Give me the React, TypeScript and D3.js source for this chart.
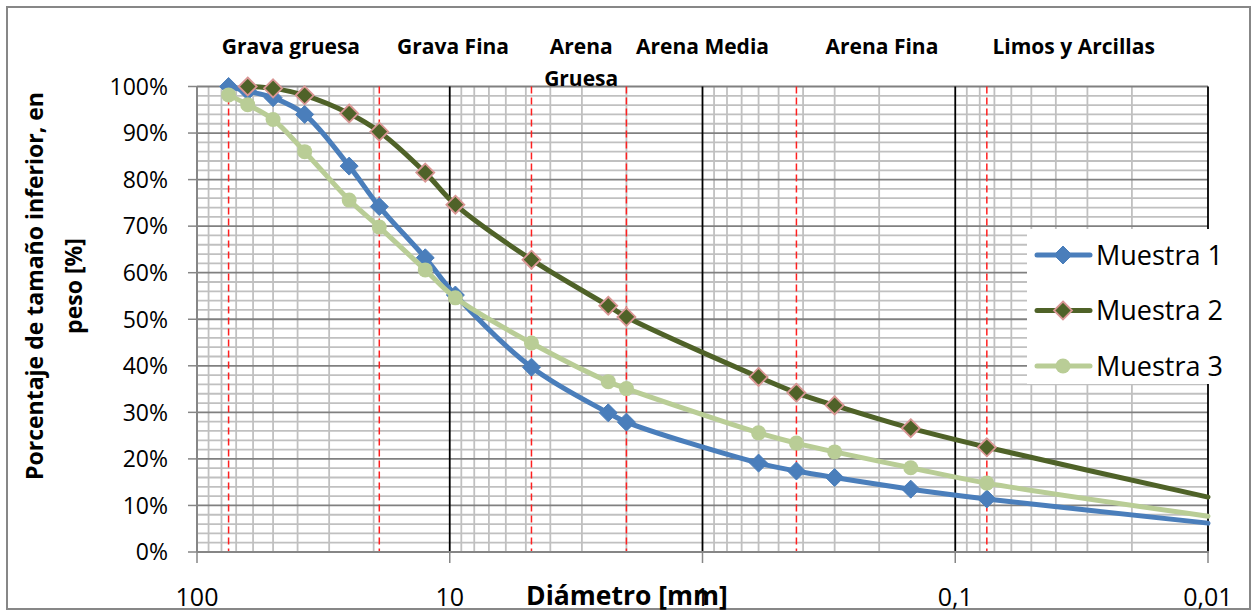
import React from "react";
import * as d3 from "d3";

const diameters = [75, 63, 50, 37.5, 25, 19, 12.5, 9.5, 4.75, 2.36, 2.0, 0.6, 0.425, 0.3, 0.15, 0.075];
const muestra1 = [100, 99, 97.6, 94.0, 82.9, 74.2, 63.2, 55.2, 39.7, 29.9, 27.9, 19.1, 17.4, 16.0, 13.5, 11.4];
const muestra2 = [null, 100, 99.6, 98.1, 94.2, 90.3, 81.5, 74.6, 62.8, 52.9, 50.5, 37.6, 34.2, 31.5, 26.6, 22.5];
const muestra3 = [98.2, 96.1, 92.9, 86.0, 75.6, 69.8, 60.6, 54.6, 44.9, 36.6, 35.1, 25.6, 23.4, 21.5, 18.1, 14.8];
// curve continuation to the right edge (no marker)
const endDiameter = 0.01;
const endValues = [6.2, 11.8, 7.7];

const seriesNames = ["Muestra 1", "Muestra 2", "Muestra 3"];
const sieveLimits = [75, 19, 4.75, 2, 0.425, 0.075];
const xTicks = [100, 10, 1, 0.1, 0.01];
const xTickLabels = ["100", "10", "1", "0,1", "0,01"];
const yTicks = [0, 10, 20, 30, 40, 50, 60, 70, 80, 90, 100];
const zoneLabels = [
  { lines: ["Grava gruesa"], d: 42.5 },
  { lines: ["Grava Fina"], d: 9.7 },
  { lines: ["Arena", "Gruesa"], d: 3.02 },
  { lines: ["Arena Media"], d: 1.0 },
  { lines: ["Arena Fina"], d: 0.195 },
  { lines: ["Limos y Arcillas"], d: 0.034 },
];

const W = 1256;
const H = 613;
const L = 197, R = 1208, T = 86.5, B = 552;

const styles = [
  { line: "#4a7ebb", fill: "#4a7ebb", stroke: "#4a7ebb", shape: "diamond" },
  { line: "#4f6228", fill: "#4f6228", stroke: "#d99694", shape: "diamond" },
  { line: "#b9cd96", fill: "#b9cd96", stroke: "#b9cd96", shape: "circle" },
];

const FONT = "'Open Sans', sans-serif";

export default function App() {
  const x = d3.scaleLog().domain([100, 0.01]).range([L, R]);
  const y = d3.scaleLinear().domain([0, 100]).range([B, T]);

  const minorY = d3.range(0, 101, 2).filter((v) => v % 10 !== 0);
  const minorX: number[] = [];
  for (let e = -2; e < 2; e++) {
    for (let k = 2; k <= 9; k++) minorX.push(k * Math.pow(10, e));
  }
  const majorX = [10, 1, 0.1, 0.01];

  const all = [muestra1, muestra2, muestra3];
  const line = d3
    .line<[number, number]>()
    .x((d) => x(d[0]))
    .y((d) => y(d[1]))
    .curve(d3.curveCatmullRom.alpha(0.5));

  const seriesPts = all.map((vals) => {
    const pts: [number, number][] = [];
    vals.forEach((v, j) => {
      if (v !== null && v !== undefined) pts.push([diameters[j], v as number]);
    });
    return pts;
  });

  const diamond = (cx: number, cy: number, r: number) =>
    `M${cx},${cy - r}L${cx + r},${cy}L${cx},${cy + r}L${cx - r},${cy}Z`;

  const marker = (i: number, cx: number, cy: number, key: string) => {
    const s = styles[i];
    if (s.shape === "circle")
      return <circle key={key} cx={cx} cy={cy} r={7.5} fill={s.fill} />;
    return (
      <path
        key={key}
        d={diamond(cx, cy, 9)}
        fill={s.fill}
        stroke={s.stroke}
        strokeWidth={i === 1 ? 1.8 : 1}
      />
    );
  };

  return (
    <div style={{ position: "absolute", left: 0, top: 0 }}>
      <svg width={W} height={H} style={{ display: "block", background: "#fff" }}>
        <rect x={7} y={7} width={1243} height={602} fill="#fff" stroke="#878787" strokeWidth={2} />
        {/* grid */}
        {minorY.map((v) => (
          <line key={"my" + v} x1={L} x2={R} y1={y(v)} y2={y(v)} stroke="#c0c0c0" strokeWidth={1.8} />
        ))}
        {minorX.map((v) => (
          <line key={"mx" + v} x1={x(v)} x2={x(v)} y1={T} y2={B} stroke="#c0c0c0" strokeWidth={1.8} />
        ))}
        {yTicks.map((v) => (
          <line key={"My" + v} x1={L} x2={R} y1={y(v)} y2={y(v)} stroke="#808080" strokeWidth={1.8} />
        ))}
        {majorX.map((v) => (
          <line key={"Mx" + v} x1={x(v)} x2={x(v)} y1={T} y2={B} stroke="#000" strokeWidth={1.8} />
        ))}
        {sieveLimits.map((v) => (
          <line
            key={"s" + v}
            x1={x(v)}
            x2={x(v)}
            y1={T}
            y2={B}
            stroke="#ff2020"
            strokeWidth={1.5}
            strokeDasharray="7,4"
          />
        ))}
        {/* axes */}
        <line x1={L} x2={L} y1={T} y2={B} stroke="#868686" strokeWidth={2} />
        <line x1={L} x2={R + 1} y1={B} y2={B} stroke="#868686" strokeWidth={2} />
        {yTicks.map((v) => (
          <g key={"yt" + v}>
            <line x1={L - 9} x2={L} y1={y(v)} y2={y(v)} stroke="#868686" strokeWidth={1.5} />
            <text
              x={168}
              y={y(v)}
              dy="0.36em"
              textAnchor="end"
              fontFamily={FONT}
              fontSize={23}
              fill="#000"
            >
              {v + "%"}
            </text>
          </g>
        ))}
        {xTicks.map((v, i) => (
          <g key={"xt" + v}>
            <line x1={x(v)} x2={x(v)} y1={B} y2={B + 11} stroke="#868686" strokeWidth={1.5} />
            <text x={x(v)} y={606} textAnchor="middle" fontFamily={FONT} fontSize={25} fill="#000">
              {xTickLabels[i]}
            </text>
          </g>
        ))}
        {/* series */}
        {seriesPts.map((pts, i) => {
          const full: [number, number][] = [...pts, [endDiameter, endValues[i]]];
          return (
            <g key={"s" + i}>
              <path d={line(full) || ""} fill="none" stroke={styles[i].line} strokeWidth={5} strokeLinejoin="round" strokeLinecap="round" />
              {pts.map((p, j) => marker(i, x(p[0]), y(p[1]), `m${i}-${j}`))}
            </g>
          );
        })}
        {/* zone labels */}
        {zoneLabels.map((z, i) => (
          <text
            key={"z" + i}
            x={x(z.d)}
            y={54}
            textAnchor="middle"
            fontFamily={FONT}
            fontWeight="bold"
            fontSize={21}
            fill="#000"
          >
            {z.lines.map((t, k) => (
              <tspan key={k} x={x(z.d)} dy={k === 0 ? 0 : 32}>
                {t}
              </tspan>
            ))}
          </text>
        ))}
        {/* axis titles */}
        <text x={627} y={605} textAnchor="middle" fontFamily={FONT} fontWeight="bold" fontSize={26.5} fill="#000">
          Diámetro [mm]
        </text>
        <text
          transform="translate(43,286) rotate(-90)"
          textAnchor="middle"
          fontFamily={FONT}
          fontWeight="bold"
          fontSize={23}
          fill="#000"
        >
          <tspan x={0} y={0}>Porcentaje de tamaño inferior, en</tspan>
          <tspan x={0} y={39}>peso [%]</tspan>
        </text>
        {/* legend */}
        <rect x={1027} y={229} width={222} height={155} fill="#fff" />
        {seriesNames.map((n, i) => {
          const cy = 255 + i * 55.5;
          return (
            <g key={"lg" + i}>
              <line x1={1037} x2={1090} y1={cy} y2={cy} stroke={styles[i].line} strokeWidth={5} strokeLinecap="round" />
              {marker(i, 1063, cy, "lm" + i)}
              <text x={1096} y={cy} dy="0.36em" fontFamily={FONT} fontSize={27} fill="#000">
                {n}
              </text>
            </g>
          );
        })}
      </svg>
    </div>
  );
}
